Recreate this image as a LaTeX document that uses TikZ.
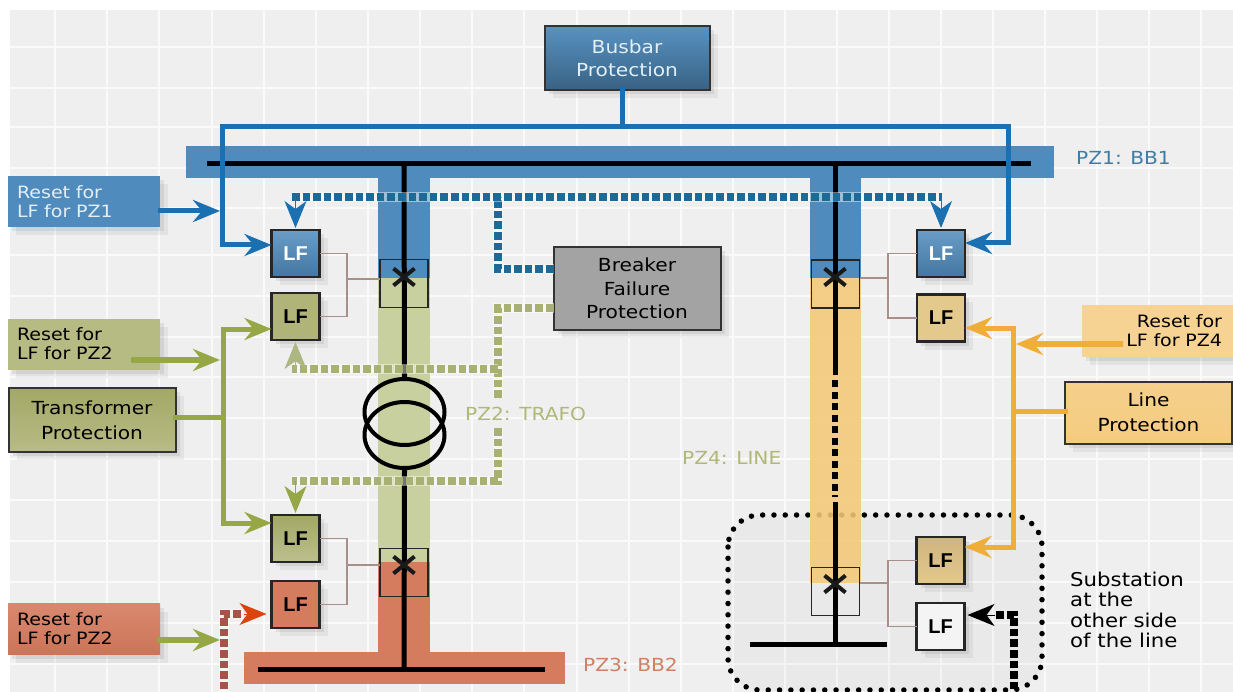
\documentclass[tikz,border=0pt]{standalone}
\usepackage{fontspec}
\setmainfont[FakeStretch=1.12]{DejaVu Sans}
\newfontfamily\lffont{Liberation Sans}
\usetikzlibrary{arrows.meta,shadows,shapes.misc,shapes.geometric}
\definecolor{bgc}{HTML}{EFEFEF}
\definecolor{gridc}{HTML}{FAFAFA}
\definecolor{bandB}{HTML}{4F8CBD}
\definecolor{bandO}{HTML}{C9D0A0}
\definecolor{bandR}{HTML}{D57B5E}
\definecolor{bandY}{HTML}{F4C878}
\definecolor{lineB}{HTML}{1A70B0}
\definecolor{lineO}{HTML}{95A845}
\definecolor{lineY}{HTML}{EFAD3A}
\definecolor{dotB}{HTML}{1D6A96}
\definecolor{dotO}{HTML}{A9B172}
\definecolor{dotR}{HTML}{A8524A}
\definecolor{tieC}{HTML}{A89088}
\definecolor{txtB}{HTML}{3D7EA6}
\definecolor{txtO}{HTML}{B0B878}
\definecolor{txtR}{HTML}{CF8062}
\definecolor{boxO}{HTML}{B0B478}
\definecolor{boxOd}{HTML}{A2A866}
\definecolor{boxT}{HTML}{E4C98C}
\tikzset{
  softsh/.style={drop shadow={shadow xshift=8pt,shadow yshift=-8pt,opacity=.05,fill=black},
                 drop shadow={shadow xshift=4pt,shadow yshift=-4pt,opacity=.07,fill=black}},
  protbox/.style={draw=black!80,line width=2pt,align=center,inner sep=0pt,outer sep=0pt,softsh,
                  font=\fontsize{18}{25}\selectfont},
  resetbox/.style={inner sep=0pt,outer sep=0pt,softsh,font=\fontsize{17}{19}\selectfont,
                  minimum width=152pt,minimum height=51pt},
  lfbox/.style={draw=black!85,line width=2.2pt,inner sep=0pt,outer sep=0pt,softsh,
                minimum width=48pt,minimum height=47pt,font=\lffont\bfseries\fontsize{20}{20}\selectfont},
  brk/.style={draw=black!85,line width=1.5pt,inner sep=0pt,outer sep=0pt,minimum width=48pt,minimum height=48pt},
  xmark/.style={draw=black!90,cross out,line width=4pt,inner sep=0pt,minimum width=17pt,minimum height=13pt},
  tie/.style={draw=tieC,line width=1.6pt},
  bus/.style={draw=black,line width=5pt},
  conn/.style={line width=5pt,line cap=rect},
  tip/.style={-{Stealth[length=27pt,width=22pt,inset=9pt]}},
  stub/.style={line width=1pt,-{Stealth[length=27pt,width=22pt,inset=8pt]},shorten >=2pt},
  halo/.style={preaction={draw=white,line width=10pt,solid,opacity=.45}},
  dotline/.style={line width=7.5pt,dash pattern=on 7.6pt off 3pt},
  zone/.style={font=\fontsize{18}{18}\selectfont,inner sep=0pt},
  trafo/.style={draw=black,line width=4pt,ellipse,inner sep=0pt,minimum width=80pt,minimum height=66pt},
}
\begin{document}
\begin{tikzpicture}[x=1pt,y=-1pt]
\clip (0,0) rectangle (1233,692);
\fill[white] (0,0) rectangle (1233,692);
\fill[bgc] (10,10) rectangle (1233,692);
\foreach \x in {55,107,159,212,264,316,368,420,472,524,577,629,681,733,785,837,889,941,993,1045,1097,1149,1201}
  \draw[gridc,line width=2pt] (\x,10) -- (\x,692);
\foreach \y in {47,88,127,168,208,255,296,337,377,418,459,500,541,582,623,664}
  \draw[gridc,line width=1.2pt] (10,\y) -- (1233,\y);

% substation area
\fill[black,opacity=.025,rounded corners=32pt] (728,515) rectangle (1042,690);
\draw[black,line width=5.5pt,line cap=round,dash pattern=on 0pt off 11.3pt,rounded corners=32pt]
  (728,515) rectangle (1042,690);

% zones
\fill[bandB] (186,146) rectangle (1054,178);
\fill[bandB] (378,178) rectangle (430,278);
\fill[bandO] (378,278) rectangle (430,562);
\fill[bandR] (378,562) rectangle (430,652);
\fill[bandR] (244,652) rectangle (565,684);
\fill[bandB] (810,178) rectangle (861,278);
\fill[bandY,opacity=.88] (810,278) rectangle (861,583);

% breakers
\node[brk] (brkA) at (404,283.5) {};
\node[brk] (brkB) at (404,572.5) {};
\node[brk] (brkC) at (835.5,284) {};
\node[brk] (brkD) at (835.5,591.5) {};

% LF relays
\node[lfbox,top color=bandB!85!white,bottom color=bandB!85!black,text=white] (lfA) at (295.5,253.5) {LF};
\node[lfbox,fill=boxO] (lfB) at (295.5,316.5) {LF};
\node[lfbox,top color=boxOd,bottom color=boxO!85!white] (lfC) at (295.5,538.5) {LF};
\node[lfbox,fill=bandR] (lfD) at (295.5,604.5) {LF};
\node[lfbox,top color=bandB!85!white,bottom color=bandB!85!black,text=white] (lfE) at (941,253.5) {LF};
\node[lfbox,fill=boxT] (lfF) at (941,318) {LF};
\node[lfbox,top color=boxT!90!black,bottom color=boxT] (lfG) at (940.5,560.5) {LF};
\node[lfbox,fill=bgc!70!white] (lfH) at (940.5,626.5) {LF};

% trip ties
\coordinate (tA) at (347,279);
\coordinate (tB) at (347,565);
\coordinate (tC) at (888,278);
\coordinate (tD) at (888,583);
\draw[tie] (lfA.east) -| (tA) |- (lfB.east);
\draw[tie] (tA) -- (brkA.west |- tA);
\draw[tie] (lfC.east) -| (tB) |- (lfD.east);
\draw[tie] (tB) -- (brkB.west |- tB);
\draw[tie] (lfE.west) -| (tC) |- (lfF.west);
\draw[tie] (tC) -- (brkC.east |- tC);
\draw[tie] (lfG.west) -| (tD) |- (lfH.west);
\draw[tie] (tD) -- (brkD.east |- tD);

% power lines
\coordinate (busAw) at (207,164);
\coordinate (busAe) at (1031,164);
\coordinate (busBw) at (258,669);
\coordinate (busBe) at (545,669);
\coordinate (busCw) at (750,644);
\coordinate (busCe) at (887,644);
\coordinate (tapA) at (404,164);
\coordinate (tapB) at (404,669);
\coordinate (tapC) at (835,164);
\coordinate (tapD) at (835,644);
\coordinate (lineU) at (835,375);
\coordinate (lineV) at (835,380);
\coordinate (lineW) at (835,497);
\coordinate (lineX) at (835,502);
\node[trafo] (trA) at (404.5,412) {};
\node[trafo] (trB) at (404.5,435) {};
\draw[bus] (busAw) -- (busAe);
\draw[bus] (busBw) -- (busBe);
\draw[bus] (busCw) -- (busCe);
\draw[bus] (tapA) -- (trA.north);
\draw[bus] (trB.south) -- (tapB);
\draw[bus] (tapC) -- (lineU);
\draw[bus,line width=6pt,dash pattern=on 7pt off 4.5pt] (lineV) -- (lineW);
\draw[bus] (lineX) -- (tapD);
\node[xmark] (xA) at (404,277) {};
\node[xmark] (xB) at (404,565) {};
\node[xmark] (xC) at (835,277) {};
\node[xmark] (xD) at (835,584) {};

% protection boxes
\node[protbox,minimum width=165pt,minimum height=64pt,top color=bandB!95!white,bottom color=bandB!70!black,text=white!85!bandB] (bbp) at (627,58.5) {Busbar\\[-2pt]Protection};
\node[protbox,minimum width=167pt,minimum height=64pt,top color=boxOd,bottom color=boxO!90!white] (tfp) at (92,420) {Transformer\\Protection};
\node[protbox,minimum width=167pt,minimum height=62pt,top color=bandY!85!white,bottom color=bandY!95!white] (lnp) at (1148.5,412.5) {Line\\Protection};
\node[protbox,minimum width=167pt,minimum height=82pt,fill=black!36,font=\fontsize{18}{23.5}\selectfont] (bfp) at (637,288.5) {Breaker\\Failure\\Protection};

\node[resetbox,fill=bandB,text=white!85!bandB,align=left,text width=134pt] (rsA) at (84,202) {Reset for\\LF for PZ1};
\node[resetbox,fill=boxO!92!white,align=left,text width=134pt] (rsB) at (84,344) {Reset for\\LF for PZ2};
\node[resetbox,top color=bandR!90!white,bottom color=bandR!95!black,align=left,text width=134pt] (rsC) at (84,629) {Reset for\\LF for PZ2};
\node[resetbox,fill=bandY!80!white,minimum width=151pt,align=right,text width=129pt] (rsD) at (1157.5,331) {Reset for\\LF for PZ4};

% busbar protection connectors
\coordinate (jB) at (622,127);
\coordinate (jBl) at (222,127);
\coordinate (jBr) at (1008,127);
\coordinate (jBa) at (222,245);
\coordinate (jBb) at (1008,243);
\draw[lineB,conn] (jBl) -- (jBr);
\draw[lineB,conn] (bbp.south -| jB) -- (jB);
\draw[lineB,conn,tip] (jBl) -- (jBa) -- (lfA.west |- jBa);
\draw[lineB,conn,tip] (jBr) -- (jBb) -- (lfE.east |- jBb);
\coordinate (jrA) at (220,211);
\draw[lineB,conn,tip] (rsA.east |- jrA) -- (jrA);

% transformer protection connectors
\coordinate (jT) at (223,417);
\coordinate (jTa) at (223,329);
\coordinate (jTb) at (223,523);
\draw[lineO,conn] (tfp.east |- jT) -- (jT);
\draw[lineO,conn,tip] (jT) -- (jTa) -- (lfB.west |- jTa);
\draw[lineO,conn,tip] (jT) -- (jTb) -- (lfC.west |- jTb);
\coordinate (jrB) at (220,360);
\coordinate (srB) at (134,360);
\draw[lineO,conn,line width=6pt,tip] (srB) -- (jrB);
\coordinate (jrC) at (220,640);
\draw[lineO,conn,line width=6pt,tip] (rsC.east |- jrC) -- (jrC);

% line protection connectors
\coordinate (jL) at (1013,411);
\coordinate (jLa) at (1013,328);
\coordinate (jLb) at (1013,547);
\draw[lineY,conn] (lnp.west |- jL) -- (jL);
\draw[lineY,conn,tip] (jL) -- (jLa) -- (lfF.east |- jLa);
\draw[lineY,conn,tip] (jL) -- (jLb) -- (lfG.east |- jLb);
\coordinate (jrD) at (1016,344);
\coordinate (srD) at (1120,344);
\draw[lineY,conn,line width=6pt,tip] (srD) -- (jrD);

% breaker failure connectors
\coordinate (dB) at (498,197);
\coordinate (dBb) at (498,269);
\coordinate (dBl) at (292,197);
\coordinate (dBr) at (942,197);
\draw[dotB,dotline,halo] (bfp.west |- dBb) -- (dBb) -- (dB);
\draw[dotB,dotline,halo] (dBl) -- (dBr);
\draw[lineB,stub] (lfA.north |- dB) -- (lfA.north);
\draw[lineB,stub] (lfE.north |- dB) -- (lfE.north);
\coordinate (dO) at (498,308);
\coordinate (dOm) at (498,369);
\coordinate (dOg) at (498,398);
\coordinate (dOh) at (498,428);
\coordinate (dOb) at (498,481);
\coordinate (dOl) at (292,481);
\coordinate (dOn) at (292,369);
\draw[dotO,dotline,halo] (bfp.west |- dO) -- (dO) -- (dOg);
\draw[dotO,dotline,halo] (dOh) -- (dOb) -- (dOl);
\draw[dotO,dotline,halo] (dOm) -- (dOn);
\draw[lineO!60!white!90!black,stub] (lfB.south |- dOm) -- (lfB.south);
\draw[lineO,stub] (lfC.north |- dOb) -- (lfC.north);

% remote and reset dotted lines
\coordinate (dR) at (224,614);
\coordinate (dRb) at (224,700);
\coordinate (dRe) at (244,614);
\draw[dotR,dotline,halo] (dRb) -- (dR) -- (dRe);
\draw[red!45!orange!85!black!95!white,stub,shorten >=5pt] (dRe) -- (lfD.west |- dR);
\coordinate (dK) at (1014,615);
\coordinate (dKb) at (1014,700);
\coordinate (dKe) at (995,615);
\draw[black,dotline,line width=8pt] (dKb) -- (dK) -- (dKe);
\draw[black,stub,shorten >=3pt] (dKe) -- (lfH.east |- dK);

% labels
\node[zone,text=txtB,anchor=west] (zA) at (1076,158) {PZ1: BB1};
\node[zone,text=txtO,anchor=west] (zB) at (465,414) {PZ2: TRAFO};
\node[zone,text=txtR,anchor=west] (zC) at (583,665) {PZ3: BB2};
\node[zone,text=txtO,anchor=west] (zD) at (682,458) {PZ4: LINE};
\node[anchor=west,align=left,inner sep=0pt,font=\fontsize{19}{20.5}\selectfont] (sub) at (1070,610) {Substation\\at the\\other side\\of the line};
\end{tikzpicture}
\end{document}
